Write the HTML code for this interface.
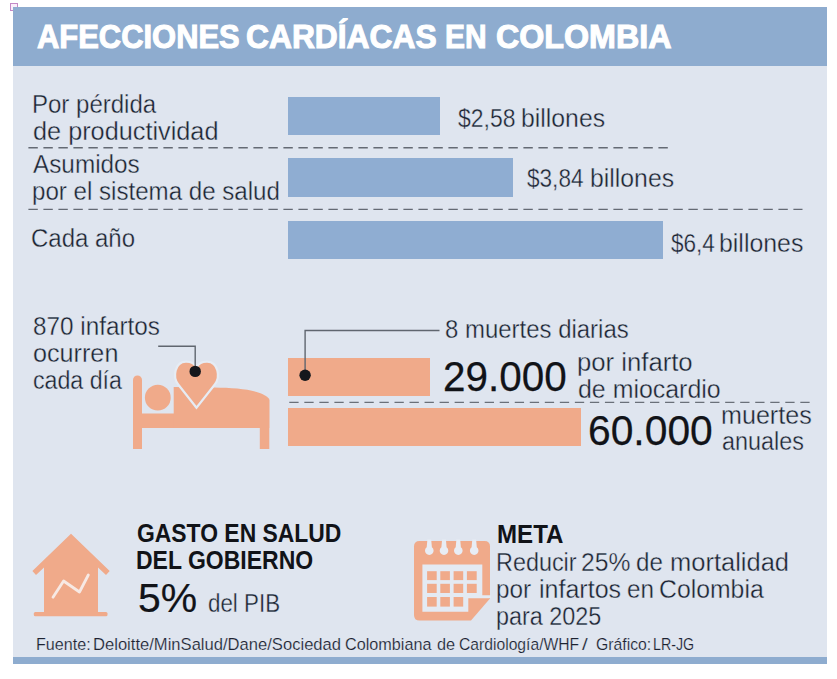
<!DOCTYPE html>
<html><head><meta charset="utf-8"><style>
html,body{margin:0;padding:0;background:#fff;}
body{width:837px;height:679px;position:relative;overflow:hidden;font-family:"Liberation Sans",sans-serif;}
.t{position:absolute;white-space:nowrap;line-height:1;transform-origin:0 0;}
.r{position:absolute;}
</style></head><body>
<div class="r" style="left:10px;top:3px;width:6px;height:6px;border:1px solid #c489c6;background:#fbeefb"></div>
<div class="r" style="left:13px;top:7px;width:814px;height:656.5px;background:#dfe5ef"></div>
<div class="r" style="left:13px;top:7px;width:814px;height:58.5px;background:#8eaccf"></div>
<div class="r" style="left:13px;top:657px;width:814px;height:6.5px;background:#8eaccf"></div>
<!-- bars -->
<div class="r" style="left:288px;top:97px;width:152px;height:38px;background:#8fadd2"></div>
<div class="r" style="left:288px;top:158px;width:225px;height:39px;background:#8fadd2"></div>
<div class="r" style="left:288px;top:220.5px;width:374.7px;height:38px;background:#8fadd2"></div>
<svg class="r" style="left:0;top:0" width="837" height="679">
 <line x1="28.4" y1="147.7" x2="668" y2="147.7" stroke="#646a74" stroke-width="1.4" stroke-dasharray="9.4 5.6"/>
 <line x1="28.4" y1="209.4" x2="802.5" y2="209.4" stroke="#646a74" stroke-width="1.4" stroke-dasharray="9.4 5.6"/>
 <line x1="289.3" y1="402.4" x2="810" y2="402.4" stroke="#6a7079" stroke-width="1.3" stroke-dasharray="9.3 5.73"/>
</svg>
<div class="r" style="left:288px;top:357.5px;width:142px;height:38px;background:#f0aa8a"></div>
<div class="r" style="left:288px;top:408px;width:293.3px;height:38px;background:#f0aa8a"></div>
<!-- icons -->
<svg class="r" style="left:0;top:0" width="837" height="679">
 <!-- bed -->
 <rect x="133" y="375.5" width="9" height="73.5" rx="4.5" fill="#f0aa8a"/>
 <rect x="133" y="380" width="9" height="69" fill="#f0aa8a"/>
 <circle cx="157.8" cy="397.7" r="12.9" fill="#f0aa8a"/>
 <rect x="140" y="413.5" width="129" height="14.5" fill="#f0aa8a"/>
 <path d="M173.7 387 L214 387.5 C240 388 262 390 269.3 399 L269.3 428 L173.7 428 Z" fill="#f0aa8a"/>
 <rect x="259.8" y="400" width="9.5" height="49" fill="#f0aa8a"/>
 <!-- heart -->
 <path d="M196.5 407.8 L178.2 384.5 C172.5 377.5 174.5 362 185.8 361.6 C191.5 361.4 195 364.5 196.5 367.2 C198 364.5 201.5 361.4 207.2 361.6 C218.5 362 220.5 377.5 214.8 384.5 Z" fill="#f0aa8a" stroke="#e6ecf4" stroke-width="2.2" stroke-linejoin="miter"/>
 <!-- pointer lines -->
 <polyline points="158.2,346.3 195.2,346.3 195.2,371.4" fill="none" stroke="#60666f" stroke-width="1.4"/>
 <circle cx="195.2" cy="371.4" r="5.7" fill="#15171c"/>
 <polyline points="305.1,375.2 305.1,330.5 439.5,330.5" fill="none" stroke="#60666f" stroke-width="1.4"/>
 <circle cx="305.1" cy="375.2" r="5.7" fill="#15171c"/>
 <!-- house -->
 <path d="M71 533.8 L109.7 571 L106 575 L98 567.5 L98 613 L44 613 L44 567.5 L36 575 L32.4 571 Z" fill="#f0aa8a"/>
 <rect x="33.8" y="612" width="73.7" height="4.3" rx="1.5" fill="#f0aa8a"/>
 <polyline points="53,597.2 63.6,581 79.5,592 88.3,575" fill="none" stroke="#f7e9e4" stroke-width="2.8" stroke-linejoin="round" stroke-linecap="round"/>
 <!-- calendar -->
 <path d="M419.5 541 L484.5 541 Q490 541 490 546.5 L490 598.5 L471 620.6 L419.5 620.6 Q414 620.6 414 615.1 L414 546.5 Q414 541 419.5 541 Z" fill="#f0aa8a"/>
 <path d="M422.4 564.6 L482.3 564.6 L482.3 595.3 L491 595.3 L491 598.3 L468.3 598.3 L468.3 611.7 L422.4 611.7 Z" fill="#e4eaf3"/>
 <g fill="#f0aa8a">
  <rect x="427.1" y="571.2" width="9.6" height="8.9"/><rect x="440.3" y="571.2" width="9.6" height="8.9"/><rect x="453.6" y="571.2" width="9.6" height="8.9"/><rect x="466.9" y="571.2" width="9.8" height="8.9"/>
  <rect x="427.1" y="583.8" width="9.6" height="9.2"/><rect x="440.3" y="583.8" width="9.6" height="9.2"/><rect x="453.6" y="583.8" width="9.6" height="9.2"/><rect x="466.9" y="583.8" width="9.8" height="9.2"/>
  <rect x="427.1" y="597" width="9.6" height="9.6"/><rect x="440.3" y="597" width="9.6" height="9.6"/><rect x="453.6" y="597" width="9.6" height="9.6"/>
 </g>
 <g fill="#e8edf5">
  <path d="M427.4 539.5 L431.2 539.5 L431.9 547.2 A4.3 4.3 0 1 1 426.7 547.2 Z"/>
  <path d="M442.1 539.5 L445.9 539.5 L446.6 547.2 A4.3 4.3 0 1 1 441.4 547.2 Z"/>
  <path d="M456.4 539.5 L460.2 539.5 L460.9 547.2 A4.3 4.3 0 1 1 455.7 547.2 Z"/>
  <path d="M472.3 539.5 L476.1 539.5 L476.8 547.2 A4.3 4.3 0 1 1 471.6 547.2 Z"/>
 </g>
</svg>
<div class="t" id="t0" style="left:36.60px;top:18.72px;font-size:34px;font-weight:700;color:#ffffff;transform:scaleX(0.9095);-webkit-text-stroke:1.1px #fff">AFECCIONES</div>
<div class="t" id="t1" style="left:245.97px;top:18.72px;font-size:34px;font-weight:700;color:#ffffff;transform:scaleX(0.9342);-webkit-text-stroke:1.1px #fff">CARDÍACAS</div>
<div class="t" id="t2" style="left:444.94px;top:18.72px;font-size:34px;font-weight:700;color:#ffffff;transform:scaleX(0.8795);-webkit-text-stroke:1.1px #fff">EN</div>
<div class="t" id="t3" style="left:496.45px;top:18.72px;font-size:34px;font-weight:700;color:#ffffff;transform:scaleX(0.9478);-webkit-text-stroke:1.1px #fff">COLOMBIA</div>
<div class="t" id="t4" style="left:32.08px;top:92.04px;font-size:25px;font-weight:400;color:#1d2231;transform:scaleX(0.9606);-webkit-text-stroke:0.35px #dfe5ef">Por pérdida</div>
<div class="t" id="t5" style="left:32.99px;top:118.84px;font-size:25px;font-weight:400;color:#1d2231;transform:scaleX(1.0110);-webkit-text-stroke:0.35px #dfe5ef">de productividad</div>
<div class="t" id="t6" style="left:33.23px;top:152.34px;font-size:25px;font-weight:400;color:#1d2231;transform:scaleX(0.9722);-webkit-text-stroke:0.35px #dfe5ef">Asumidos</div>
<div class="t" id="t7" style="left:32.07px;top:178.74px;font-size:25px;font-weight:400;color:#1d2231;transform:scaleX(0.9644);-webkit-text-stroke:0.35px #dfe5ef">por el sistema de salud</div>
<div class="t" id="t8" style="left:31.48px;top:226.24px;font-size:25px;font-weight:400;color:#1d2231;transform:scaleX(0.9590);-webkit-text-stroke:0.35px #dfe5ef">Cada año</div>
<div class="t" id="t9" style="left:458.28px;top:106.14px;font-size:25px;font-weight:400;color:#1d2231;transform:scaleX(0.9183);-webkit-text-stroke:0.35px #dfe5ef">$2,58</div>
<div class="t" id="t10" style="left:520.92px;top:106.14px;font-size:25px;font-weight:400;color:#1d2231;transform:scaleX(0.9915);-webkit-text-stroke:0.35px #dfe5ef">billones</div>
<div class="t" id="t11" style="left:527.10px;top:166.04px;font-size:25px;font-weight:400;color:#1d2231;transform:scaleX(0.9033);-webkit-text-stroke:0.35px #dfe5ef">$3,84</div>
<div class="t" id="t12" style="left:589.72px;top:166.04px;font-size:25px;font-weight:400;color:#1d2231;transform:scaleX(0.9915);-webkit-text-stroke:0.35px #dfe5ef">billones</div>
<div class="t" id="t13" style="left:670.90px;top:231.04px;font-size:25px;font-weight:400;color:#1d2231;transform:scaleX(0.9021);-webkit-text-stroke:0.35px #dfe5ef">$6,4</div>
<div class="t" id="t14" style="left:719.21px;top:231.04px;font-size:25px;font-weight:400;color:#1d2231;transform:scaleX(0.9951);-webkit-text-stroke:0.35px #dfe5ef">billones</div>
<div class="t" id="t15" style="left:32.73px;top:313.94px;font-size:25px;font-weight:400;color:#1d2231;transform:scaleX(0.9713);-webkit-text-stroke:0.35px #dfe5ef">870 infartos</div>
<div class="t" id="t16" style="left:32.69px;top:341.04px;font-size:25px;font-weight:400;color:#1d2231;transform:scaleX(1.0073);-webkit-text-stroke:0.35px #dfe5ef">ocurren</div>
<div class="t" id="t17" style="left:32.77px;top:367.84px;font-size:25px;font-weight:400;color:#1d2231;transform:scaleX(0.9263);-webkit-text-stroke:0.35px #dfe5ef">cada día</div>
<div class="t" id="t18" style="left:445.34px;top:316.54px;font-size:25px;font-weight:400;color:#1d2231;transform:scaleX(0.9579);-webkit-text-stroke:0.35px #dfe5ef">8 muertes diarias</div>
<div class="t" id="t19" style="left:443.29px;top:355.99px;font-size:42.3px;font-weight:400;color:#111318;transform:scaleX(0.9556);-webkit-text-stroke:0.25px #111318">29.000</div>
<div class="t" id="t20" style="left:576.54px;top:350.24px;font-size:25px;font-weight:400;color:#1d2231;transform:scaleX(1.0275);-webkit-text-stroke:0.35px #dfe5ef">por infarto</div>
<div class="t" id="t21" style="left:577.60px;top:377.04px;font-size:25px;font-weight:400;color:#1d2231;transform:scaleX(0.9965);-webkit-text-stroke:0.35px #dfe5ef">de miocardio</div>
<div class="t" id="t22" style="left:588.47px;top:409.99px;font-size:42.3px;font-weight:400;color:#111318;transform:scaleX(0.9643);-webkit-text-stroke:0.25px #111318">60.000</div>
<div class="t" id="t23" style="left:720.99px;top:403.34px;font-size:25px;font-weight:400;color:#1d2231;transform:scaleX(1.0046);-webkit-text-stroke:0.35px #dfe5ef">muertes</div>
<div class="t" id="t24" style="left:722.07px;top:428.74px;font-size:25px;font-weight:400;color:#1d2231;transform:scaleX(0.9341);-webkit-text-stroke:0.35px #dfe5ef">anuales</div>
<div class="t" id="t25" style="left:136.98px;top:521.24px;font-size:25px;font-weight:700;color:#111318;transform:scaleX(0.9158);">GASTO EN SALUD</div>
<div class="t" id="t26" style="left:136.06px;top:548.24px;font-size:25px;font-weight:700;color:#111318;transform:scaleX(0.9200);">DEL GOBIERNO</div>
<div class="t" id="t27" style="left:138.00px;top:577.69px;font-size:41px;font-weight:400;color:#111318;transform:scaleX(0.9982);-webkit-text-stroke:0.2px #111318">5%</div>
<div class="t" id="t28" style="left:207.91px;top:591.24px;font-size:25px;font-weight:400;color:#1d2231;transform:scaleX(0.8936);-webkit-text-stroke:0.35px #dfe5ef">del PIB</div>
<div class="t" id="t29" style="left:497.07px;top:521.64px;font-size:25px;font-weight:700;color:#111318;transform:scaleX(0.9636);">META</div>
<div class="t" id="t30" style="left:496.43px;top:550.34px;font-size:25px;font-weight:400;color:#1d2231;transform:scaleX(0.9357);-webkit-text-stroke:0.35px #dfe5ef">Reducir</div>
<div class="t" id="t31" style="left:580.83px;top:550.34px;font-size:25px;font-weight:400;color:#1d2231;transform:scaleX(0.9872);-webkit-text-stroke:0.35px #dfe5ef">25%</div>
<div class="t" id="t32" style="left:636.13px;top:550.34px;font-size:25px;font-weight:400;color:#1d2231;transform:scaleX(0.9654);-webkit-text-stroke:0.35px #dfe5ef">de</div>
<div class="t" id="t33" style="left:669.76px;top:550.34px;font-size:25px;font-weight:400;color:#1d2231;transform:scaleX(1.0195);-webkit-text-stroke:0.35px #dfe5ef">mortalidad</div>
<div class="t" id="t34" style="left:496.06px;top:577.24px;font-size:25px;font-weight:400;color:#1d2231;transform:scaleX(0.9706);-webkit-text-stroke:0.35px #dfe5ef">por</div>
<div class="t" id="t35" style="left:538.50px;top:577.24px;font-size:25px;font-weight:400;color:#1d2231;transform:scaleX(1.0013);-webkit-text-stroke:0.35px #dfe5ef">infartos</div>
<div class="t" id="t36" style="left:626.53px;top:577.24px;font-size:25px;font-weight:400;color:#1d2231;transform:scaleX(0.9720);-webkit-text-stroke:0.35px #dfe5ef">en</div>
<div class="t" id="t37" style="left:659.42px;top:577.24px;font-size:25px;font-weight:400;color:#1d2231;transform:scaleX(0.9913);-webkit-text-stroke:0.35px #dfe5ef">Colombia</div>
<div class="t" id="t38" style="left:496.23px;top:604.14px;font-size:25px;font-weight:400;color:#1d2231;transform:scaleX(0.9358);-webkit-text-stroke:0.35px #dfe5ef">para 2025</div>
<div class="t" id="t39" style="left:35.80px;top:635.91px;font-size:17px;font-weight:400;color:#1d2231;transform:scaleX(0.9481);-webkit-text-stroke:0.2px #dfe5ef">Fuente:</div>
<div class="t" id="t40" style="left:93.45px;top:635.91px;font-size:17px;font-weight:400;color:#1d2231;transform:scaleX(0.9757);-webkit-text-stroke:0.2px #dfe5ef">Deloitte/MinSalud/Dane/Sociedad</div>
<div class="t" id="t41" style="left:345.45px;top:635.91px;font-size:17px;font-weight:400;color:#1d2231;transform:scaleX(0.9533);-webkit-text-stroke:0.2px #dfe5ef">Colombiana</div>
<div class="t" id="t42" style="left:436.74px;top:635.91px;font-size:17px;font-weight:400;color:#1d2231;transform:scaleX(0.9588);-webkit-text-stroke:0.2px #dfe5ef">de</div>
<div class="t" id="t43" style="left:458.78px;top:635.91px;font-size:17px;font-weight:400;color:#1d2231;transform:scaleX(0.9217);-webkit-text-stroke:0.2px #dfe5ef">Cardiología/WHF</div>
<div class="t" id="t44" style="left:582.20px;top:635.91px;font-size:17px;font-weight:400;color:#1d2231;transform:scaleX(1.2200);-webkit-text-stroke:0.2px #dfe5ef">/</div>
<div class="t" id="t45" style="left:595.77px;top:635.91px;font-size:17px;font-weight:400;color:#1d2231;transform:scaleX(0.9281);-webkit-text-stroke:0.2px #dfe5ef">Gráfico:</div>
<div class="t" id="t46" style="left:652.53px;top:635.91px;font-size:17px;font-weight:400;color:#1d2231;transform:scaleX(0.8370);-webkit-text-stroke:0.2px #dfe5ef">LR-JG</div>
</body></html>
